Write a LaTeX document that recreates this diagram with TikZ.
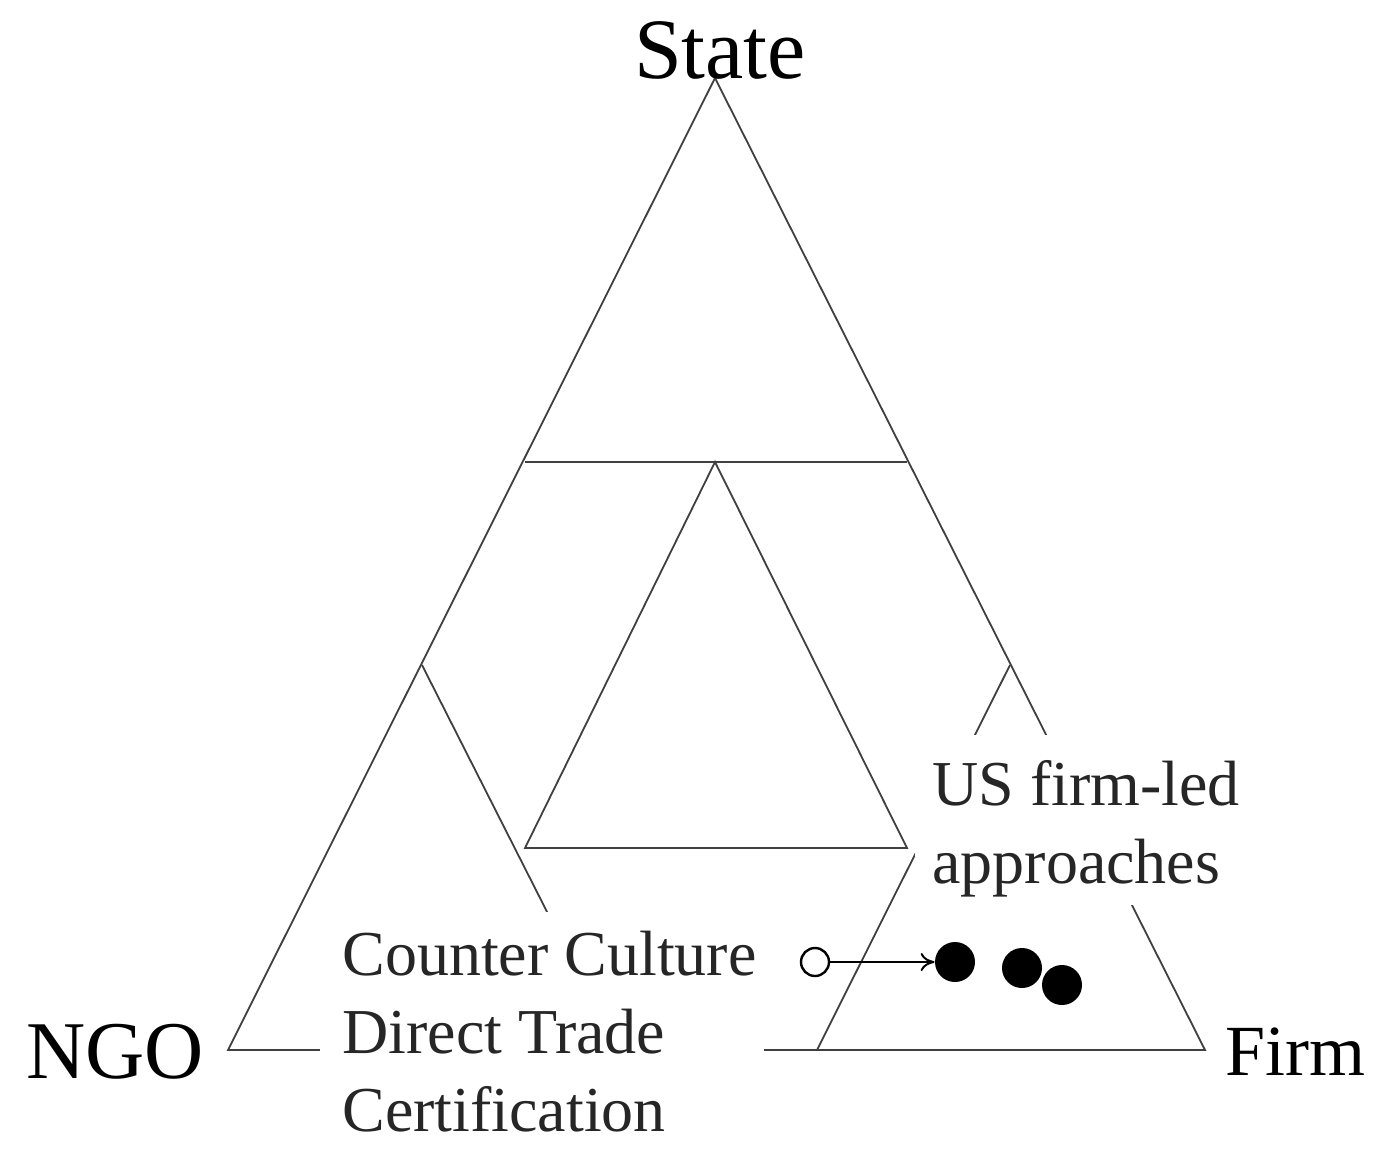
\documentclass[tikz,border=0pt]{standalone}
\usepackage{fontspec}
\setmainfont{Liberation Serif}
\usetikzlibrary{arrows.meta}
\begin{document}
\begin{tikzpicture}[x=0.5pt,y=-0.5pt,
  edge/.style={draw=black!75,line width=0.9pt},
  lbl/.style={fill=white,align=left,inner sep=0pt,font=\fontsize{32}{39}\selectfont,text=black!85},
  dotf/.style={circle,fill=black,inner sep=0pt,minimum size=20pt},
  doto/.style={circle,draw=black,line width=1.2pt,fill=white,inner sep=0pt,minimum size=14pt}]
\path[use as bounding box,fill=white] (0,0) rectangle (1386,1157);
\coordinate (A) at (715,78); \coordinate (L) at (228,1050); \coordinate (R) at (1205,1050);
\coordinate (ml) at (525,462); \coordinate (mr) at (907,462);
\coordinate (c) at (715,462); \coordinate (cl) at (525,848); \coordinate (cr) at (907,848);
\coordinate (la) at (422,665); \coordinate (lb) at (617,1050);
\coordinate (ra) at (1010,665); \coordinate (rb) at (817,1050);
\draw[edge] (A) -- (L) -- (R) -- cycle;
\draw[edge] (ml) -- (mr);
\draw[edge] (c) -- (cl) -- (cr) -- cycle;
\draw[edge] (la) -- (lb);
\draw[edge] (ra) -- (rb);
\node[lbl,anchor=north west,text width=222pt,inner xsep=0pt,inner ysep=0pt,
  outer sep=0pt,minimum height=120pt] (ngt) at (320,912) {};
\node[lbl,anchor=base west] (t1) at (342,975) {Counter Culture};
\node[lbl,anchor=base west] (t2) at (342,1053) {Direct Trade};
\node[lbl,anchor=base west] (t3) at (342,1131) {Certification};
\node[lbl,anchor=north west,minimum width=195pt,minimum height=85pt] (us) at (915,735) {};
\node[lbl,anchor=base west] (u1) at (932,805) {US firm-led};
\node[lbl,anchor=base west] (u2) at (932,883) {approaches};
\node[font=\fontsize{43}{43}\selectfont] (st) at (720,50) {State};
\node[font=\fontsize{41}{41}\selectfont] (ngo) at (115,1052) {NGO};
\node[font=\fontsize{36}{36}\selectfont] (fi) at (1295,1052) {Firm};
\node[doto] (o) at (815,962) {};
\node[dotf] (d1) at (955,962) {};
\node[dotf] (d2) at (1022,968) {};
\node[dotf] (d3) at (1062,985) {};
\draw[-{To[length=7pt,width=9pt]},line width=1pt] (o) -- (d1);
\end{tikzpicture}
\end{document}
